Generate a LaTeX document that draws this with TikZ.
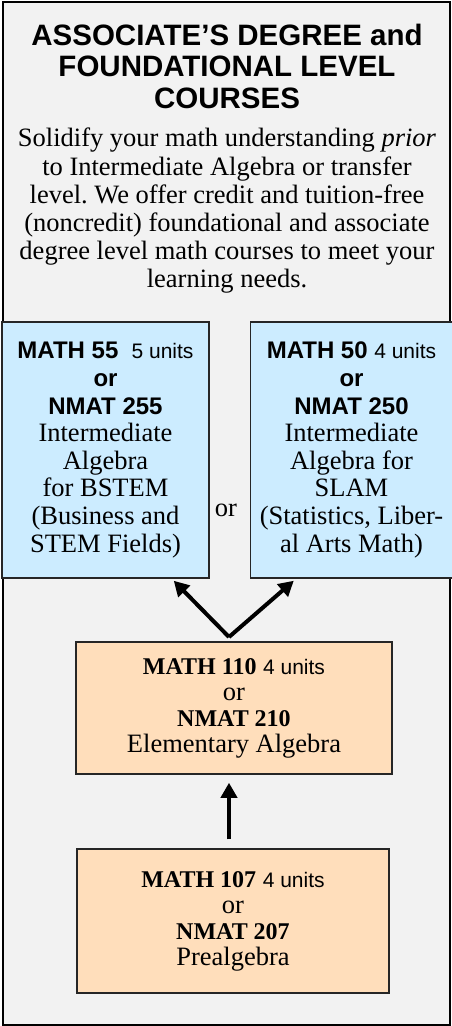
\documentclass[tikz,border=0pt]{standalone}
\usepackage{fontspec}
\setmainfont{Liberation Serif}
\setsansfont{Liberation Sans}
\usetikzlibrary{positioning,arrows.meta}
\definecolor{panelgray}{HTML}{F2F2F2}
\definecolor{pathblue}{HTML}{CCECFF}
\definecolor{pathpeach}{HTML}{FFDEBB}
\newcommand{\codesf}[1]{{\sffamily\bfseries\fontsize{24}{27.6}\selectfont #1}}
\newcommand{\unitsf}[1]{{\sffamily\fontsize{21}{27.6}\selectfont #1}}
\newcommand{\coderm}[1]{{\bfseries\fontsize{24}{26}\selectfont #1}}
\frenchspacing

\begin{document}
\begin{tikzpicture}[
  x=1pt, y=1pt,
  font=\fontsize{26.5}{27.6}\selectfont,
  box/.style={draw=black!85, line width=1.5pt, align=center, inner sep=0pt},
  bluebox/.style={box, fill=pathblue, minimum height=256pt},
  peachbox/.style={box, fill=pathpeach, font=\fontsize{26.5}{26}\selectfont},
  arr/.style={line width=4pt, -{Triangle[length=15pt,width=16pt]}}
]
\useasboundingbox (0,0) rectangle (451,-1026);
\draw[line width=2pt, fill=panelgray] (2.5,-1.5) rectangle (450,-1024.5);
% heading and intro
\node[font=\sffamily\bfseries\fontsize{29.5}{31.5}\selectfont, align=center] (title) at (227,-66)
  {ASSOCIATE’S DEGREE and\\FOUNDATIONAL LEVEL\\COURSES};
\node[font=\fontsize{26.5}{28.2}\selectfont, align=center] (intro) at (227,-211)
  {Solidify your math understanding \textit{prior}\\
   to Intermediate Algebra or transfer\\
   level. We offer credit and tuition-free\\
   (noncredit) foundational and associate\\
   degree level math courses to meet your\\
   learning needs.};
% intermediate algebra
\node[bluebox, minimum width=207pt] (bstem) at (105.5,-450)
  {\codesf{MATH 55}\ \ \unitsf{5 units}\\ \codesf{or}\\ \codesf{NMAT 255}\\
   Intermediate\\ Algebra\\ for BSTEM\\ (Business and\\ STEM Fields)};
\node[bluebox, minimum width=202pt, right=40pt of bstem] (slam)
  {\codesf{MATH 50} \unitsf{4 units}\\ \codesf{or}\\ \codesf{NMAT 250}\\
   Intermediate\\ Algebra for\\ SLAM\\ (Statistics, Liber-\\ al Arts Math)};
\node (ortext) at (226,-510) {or};
% foundational
\node[peachbox, minimum width=316pt, minimum height=132pt] (elem) at (234,-708)
  {\coderm{MATH 110} \unitsf{4 units}\\ or\\ \coderm{NMAT 210}\\ Elementary Algebra};
\node[peachbox, minimum width=312pt, minimum height=144pt] (pre) at (233,-921)
  {\coderm{MATH 107} \unitsf{4 units}\\ or\\ \coderm{NMAT 207}\\ Prealgebra};
\coordinate (fork) at (229,-637);
\draw[arr, shorten <=9pt, shorten >=8pt] (pre.north -| fork) -- (elem.south -| fork);
\draw[arr] (fork) -- ([xshift=-36pt,yshift=-2pt]bstem.south east);
\draw[arr] (fork) -- ([xshift=44pt,yshift=-2pt]slam.south west);
\end{tikzpicture}
\end{document}
